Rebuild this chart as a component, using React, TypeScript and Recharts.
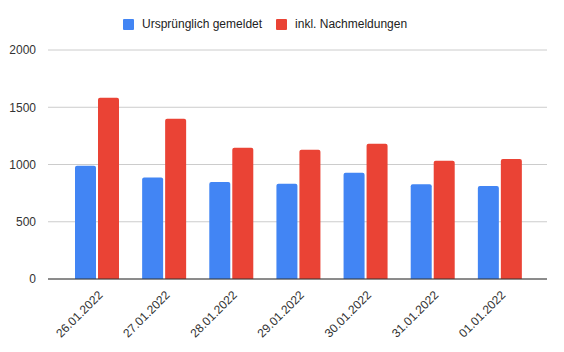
import { Bar, BarChart, CartesianGrid, XAxis, YAxis } from "recharts";

const dates = ["26.01.2022", "27.01.2022", "28.01.2022", "29.01.2022", "30.01.2022", "31.01.2022", "01.01.2022"];
const reported = [988, 886, 848, 831, 927, 828, 813];
const withLate = [1583, 1399, 1146, 1128, 1181, 1032, 1049];
const yTicks = [0, 500, 1000, 1500, 2000];

const series = [
  { key: "reported", name: "Ursprünglich gemeldet", color: "#4285F4" },
  { key: "withLate", name: "inkl. Nachmeldungen", color: "#EA4335" },
];

const data = dates.map((d, i) => ({ date: d, reported: reported[i], withLate: withLate[i] }));

const font = "Arial, 'Liberation Sans', sans-serif";

function DateTick({ x, y, payload }: any) {
  return (
    <g transform={`translate(${x + 4},${y + 6})`}>
      <text x={0} y={0} dy={4} textAnchor="end" transform="rotate(-45)" fill="#333" fontSize={12} fontFamily={font}>
        {payload.value}
      </text>
    </g>
  );
}

function LegendBox() {
  return (
    <div
      style={{
        position: "absolute",
        left: 123,
        top: 17,
        display: "flex",
        fontFamily: font,
        fontSize: 12,
        lineHeight: "14px",
        color: "#222",
      }}
    >
      {series.map((s, i) => (
        <div key={s.key} style={{ display: "flex", alignItems: "center", marginLeft: i ? 14 : 0 }}>
          <span style={{ width: 11, height: 11, background: s.color, borderRadius: 1, marginRight: 8, display: "inline-block" }} />
          <span>{s.name}</span>
        </div>
      ))}
    </div>
  );
}

export default function App() {
  return (
    <div style={{ position: "absolute", left: 0, top: 0, width: 564, height: 352, background: "#fff" }}>
      <BarChart
        width={564}
        height={352}
        data={data}
        margin={{ top: 50, right: 17, left: 0, bottom: 0 }}
        barGap={2}
        barCategoryGap={12}
      >
        <CartesianGrid vertical={false} stroke="#cccccc" />
        <XAxis
          dataKey="date"
          height={73}
          interval={0}
          tick={<DateTick />}
          tickLine={false}
          axisLine={{ stroke: "#333" }}
          padding={{ left: 15, right: 14 }}
        />
        <YAxis
          width={48}
          domain={[0, 2000]}
          ticks={yTicks}
          axisLine={false}
          tickLine={false}
          tickMargin={6}
          tick={{ fill: "#333", fontSize: 12, fontFamily: font }}
        />
        {series.map((s) => (
          <Bar key={s.key} dataKey={s.key} name={s.name} fill={s.color} radius={[2, 2, 0, 0]} isAnimationActive={false} />
        ))}
      </BarChart>
      <LegendBox />
    </div>
  );
}
